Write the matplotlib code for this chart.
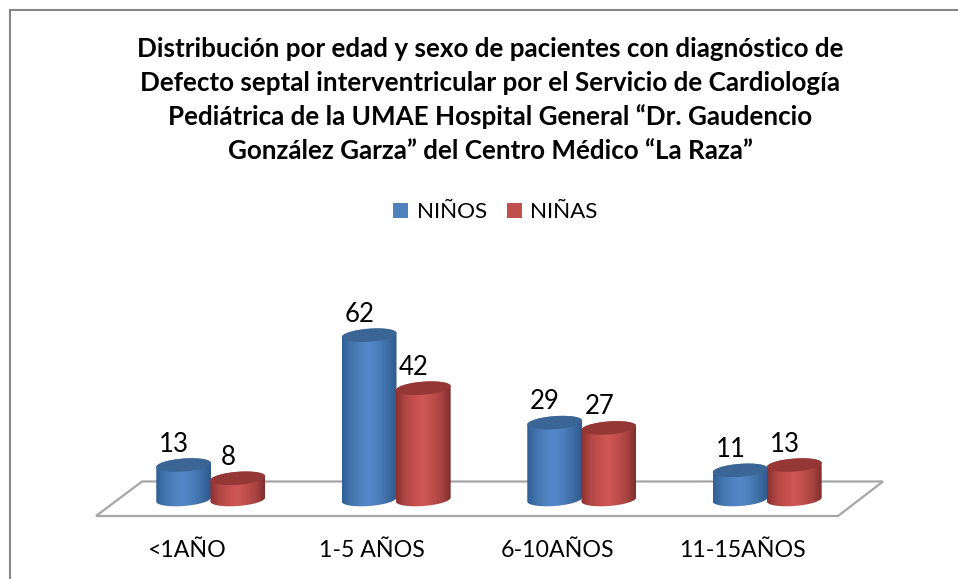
import numpy as np
import matplotlib
matplotlib.use("Agg")
import matplotlib.pyplot as plt
from matplotlib.patches import Polygon, Rectangle
from matplotlib.lines import Line2D
from matplotlib.colors import LinearSegmentedColormap

plt.rcParams['font.family'] = ['Lato', 'DejaVu Sans']

title_lines = [
    "Distribución por edad y sexo de pacientes con diagnóstico de",
    "Defecto septal interventricular por el Servicio de Cardiología",
    "Pediátrica de la UMAE Hospital General “Dr. Gaudencio",
    "González Garza” del Centro Médico “La Raza”",
]
categories = ["<1AÑO", "1-5 AÑOS", "6-10AÑOS", "11-15AÑOS"]
ninos = [13, 62, 29, 11]
ninas = [8, 42, 27, 13]
series_names = ["NIÑOS", "NIÑAS"]

W, H = 958, 579
fig = plt.figure(figsize=(W / 100, H / 100), dpi=100, facecolor="white")

# overlay in pixels for frame / text
ov = fig.add_axes([0, 0, 1, 1])
ov.set_xlim(0, W); ov.set_ylim(H, 0); ov.axis("off")
ov.add_line(Line2D([10.3, 10.3, W], [H, 10, 10], color="#868686", lw=1.5, solid_joinstyle="miter"))

for line, y in zip(title_lines, [57, 91, 125, 159]):
    ov.text(490, y, line, ha="center", va="baseline", fontsize=18.7, fontweight="bold", color="black")

# legend
ov.add_patch(Rectangle((393, 203), 15, 15, fc="#4F81BD", ec="none"))
ov.text(417, 218, series_names[0], ha="left", va="baseline", fontsize=16.1, color="black")
ov.add_patch(Rectangle((507, 203), 15, 15, fc="#C0504D", ec="none"))
ov.text(530, 218, series_names[1], ha="left", va="baseline", fontsize=16.1, color="black")

# plot axes: category i centred at 211+185.5*i px; value 0 at 499.5 px, 2.65 px/unit
PX = 185.5
PY = 2.65
Y0 = 499.5
ax = fig.add_axes([0, 0, 1, 1], facecolor="none")

def fx(px): return (px - 211) / PX
def fy(py): return (Y0 - py) / PY

# floor
floor = [(96, 516), (142, 481.5), (883, 481.5), (838, 516)]
ax.add_patch(Polygon([(fx(a), fy(b)) for a, b in floor], closed=True, fill=False,
                     ec="#A6A6A6", lw=1.6, zorder=1))

cm_blue = LinearSegmentedColormap.from_list("b", ["#2F5F95", "#4474AC", "#4F81BD", "#5488CA", "#4C7EBA", "#3E6DA4", "#2E5A8E"])
cm_red = LinearSegmentedColormap.from_list("r", ["#8A3130", "#B04644", "#C4504E", "#CF5855", "#BE4E4B", "#A84341", "#7F2E2C"])
top_blue, top_red = "#3A6594", "#953735"

BW = 0.295         # bar width in category units
EH = 6.5 / PY      # ellipse half-height in value units
TILT = 2.0 / PY    # right side higher than left

t = np.linspace(0, 2 * np.pi, 120)

def cylinder(cx, val, cmap, topc, z):
    back = np.linspace(np.pi, 0, 60)     # left to right over the back of the top
    front = np.linspace(0, -np.pi, 60)   # right to left under the front of the base
    xs_top = cx + BW / 2 * np.cos(back)
    ys_top = val + EH * np.sin(back) + TILT * np.cos(back)
    xs_bot = cx + BW / 2 * np.cos(front)
    ys_bot = EH * np.sin(front) + TILT * np.cos(front)
    pts = np.vstack([np.c_[xs_top, ys_top], np.c_[xs_bot, ys_bot]])
    body = Polygon(pts, closed=True, fc="none", ec="none", zorder=z)
    ax.add_patch(body)
    grad = np.linspace(0, 1, 128).reshape(1, -1)
    im = ax.imshow(grad, cmap=cmap, aspect="auto", zorder=z, interpolation="bilinear",
                   extent=(cx - BW / 2, cx + BW / 2, -2 * EH, val + 2 * EH))
    im.set_clip_path(body)
    ax.fill(cx + BW / 2 * np.cos(t), val + EH * np.sin(t) + TILT * np.cos(t),
            color=topc, lw=0, zorder=z + 0.1)

LABEL_SHIFT = -9.5 / PX
for i, (a, b) in enumerate(zip(ninos, ninas)):
    cx_a, cx_b = i - BW / 2, i + BW / 2 - 0.003
    cylinder(cx_a, a, cm_blue, top_blue, 3)
    cylinder(cx_b, b, cm_red, top_red, 4)
    ax.text(cx_a + LABEL_SHIFT, a + 3.2, str(a), ha="center", va="bottom", fontsize=18.5, color="black", zorder=6)
    ax.text(cx_b + LABEL_SHIFT, b + 3.2, str(b), ha="center", va="bottom", fontsize=18.5, color="black", zorder=6)
    ax.text(i - 25 / PX, fy(557), categories[i], ha="center", va="baseline", fontsize=16.7, color="black")

ax.set_xlim(-211 / PX, (W - 211) / PX)
ax.set_ylim(-(H - Y0) / PY, Y0 / PY)
ax.axis("off")
fig.savefig("out.png", dpi=100, facecolor="white")
